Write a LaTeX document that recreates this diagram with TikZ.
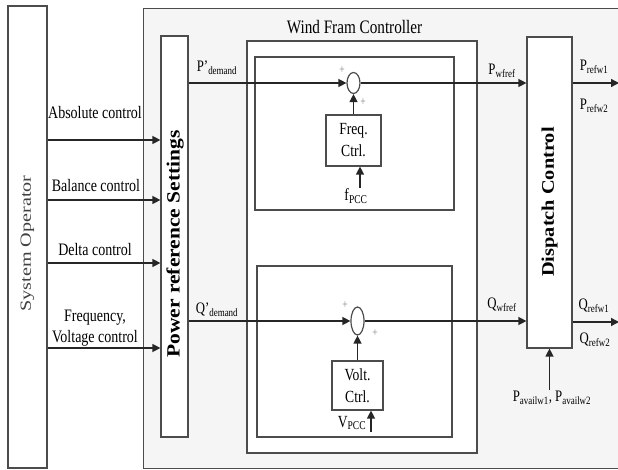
\documentclass[tikz,border=0pt]{standalone}
\usepackage{fontspec}
\setmainfont[FakeStretch=0.8]{Liberation Serif}
\newfontfamily\rotfont[FakeStretch=1.15]{Liberation Serif}
\newfontfamily\sofont[FakeStretch=1.3]{Liberation Serif}
\usetikzlibrary{arrows.meta,positioning,shapes.geometric}

\begin{document}
\begin{tikzpicture}[x=1pt, y=-1pt,
  blk/.style={draw=black!70, line width=1.2pt, fill=white, inner sep=0pt},
  arr/.style={-{Triangle[length=8pt,width=8pt]}, line width=1.3pt, black!85},
  lbl/.style={font=\fontsize{17.5}{21}\selectfont, inner sep=1pt, align=center},
  sig/.style={font=\fontsize{16}{19}\selectfont, inner sep=1pt},
  pm/.style={font=\fontsize{12}{12}\selectfont, text=black!50, inner sep=0pt},
  sum/.style={draw=black!70, line width=1.2pt, fill=white, ellipse, inner sep=0pt},
]
\clip (0,0) rectangle (618,470);

% boxes
\node[blk, minimum width=39pt, minimum height=462pt] (so) at (27.5,237) {};
\node[blk, fill=gray!8, anchor=north west, minimum width=490pt, minimum height=460pt] (wf) at (143,8) {};
\node[blk, minimum width=27pt, minimum height=401pt] (prs) at (174.5,236.5) {};
\node[blk, minimum width=230pt, minimum height=412pt] (wfc) at (362,247) {};
\node[blk, minimum width=199pt, minimum height=153pt] (inP) at (354.5,133.5) {};
\node[blk, minimum width=195pt, minimum height=171pt] (inQ) at (354.5,351.5) {};
\node[blk, minimum width=45pt, minimum height=311pt] (dc) at (549.5,192.5) {};

% box texts
\node[rotate=90, text=black!75, font=\sofont\fontsize{15.5}{18}\selectfont] (sotxt) at (27.5,243.5) {System Operator};
\node[rotate=90, font=\rotfont\bfseries\fontsize{18.7}{22}\selectfont] (prstxt) at (175,244) {Power reference Settings};
\node[rotate=90, font=\rotfont\bfseries\fontsize{17.7}{22}\selectfont] (dctxt) at (549.5,202) {Dispatch Control};
\node[font=\fontsize{19}{22}\selectfont] (wfctxt) at (354.5,27) {Wind Fram Controller};

% control blocks
\node[blk, lbl, minimum width=55pt, minimum height=51pt, font=\fontsize{17}{22}\selectfont] (freq) at (353.5,140.5) {Freq.\\Ctrl.};
\node[blk, lbl, minimum width=51pt, minimum height=49pt, font=\fontsize{17}{22}\selectfont] (volt) at (357.5,385.5) {Volt.\\Ctrl.};
\node[sum, minimum width=13pt, minimum height=21pt] (sumP) at (353.5,83) {};
\node[sum, minimum width=13pt, minimum height=28pt] (sumQ) at (357.5,321) {};
\node[pm] (pp1) at (342,70) {+};
\node[pm] (pp2) at (363,102) {+};
\node[pm] (qp1) at (345,305) {+};
\node[pm] (qp2) at (375,333) {+};

% operator commands
\node[lbl] (abs) at (95,113) {Absolute control};
\node[lbl] (bal) at (96,186) {Balance control};
\node[lbl] (del) at (95,250) {Delta control};
\node[lbl] (fv) at (95,328.5) {Frequency,\\Voltage control};
\foreach \yy in {140,200,263,348}
  \draw[arr] (so.east |- 0,\yy) -- (prs.west |- 0,\yy);

% active power path
\node[sig] (pdem) at (217,68) {P’\textsubscript{demand}};
\node[sig] (pwf) at (502,71) {P\textsubscript{wfref}};
\draw[arr] (prs.east |- sumP) -- (sumP.west);
\draw[arr] (sumP.east) -- (dc.west |- sumP);
\draw[arr] (freq.north) -- (sumP.south);
\node[sig, font=\fontsize{17}{20}\selectfont] (fpcc) at (356,196) {f\textsubscript{PCC}};
\coordinate (fin) at (360,188);
\draw[arr] (fin) -- (fin |- freq.south);

% reactive power path
\node[sig] (qdem) at (217,310) {Q’\textsubscript{demand}};
\node[sig] (qwf) at (502,305) {Q\textsubscript{wfref}};
\draw[arr] (prs.east |- sumQ) -- (sumQ.west);
\draw[arr] (sumQ.east) -- (dc.west |- sumQ);
\draw[arr] (volt.north) -- (sumQ.south);
\node[sig, font=\fontsize{17}{20}\selectfont] (vpcc) at (352,423) {V\textsubscript{PCC}};
\coordinate (vin) at (371,432);
\draw[arr] (vin) -- (vin |- volt.south);

% dispatch outputs
\coordinate (pout) at (619,83);
\coordinate (qout) at (619,322);
\draw[arr] (dc.east |- pout) -- (pout);
\draw[arr] (dc.east |- qout) -- (qout);
\node[sig] (pr1) at (594,67) {P\textsubscript{refw1}};
\node[sig] (pr2) at (594,106) {P\textsubscript{refw2}};
\node[sig] (qr1) at (594,306) {Q\textsubscript{refw1}};
\node[sig] (qr2) at (595,340) {Q\textsubscript{refw2}};
\node[sig] (pav) at (552,398) {P\textsubscript{availw1}, P\textsubscript{availw2}};
\draw[arr] (dc.south |- pav.north) -- (dc.south);
\end{tikzpicture}
\end{document}
